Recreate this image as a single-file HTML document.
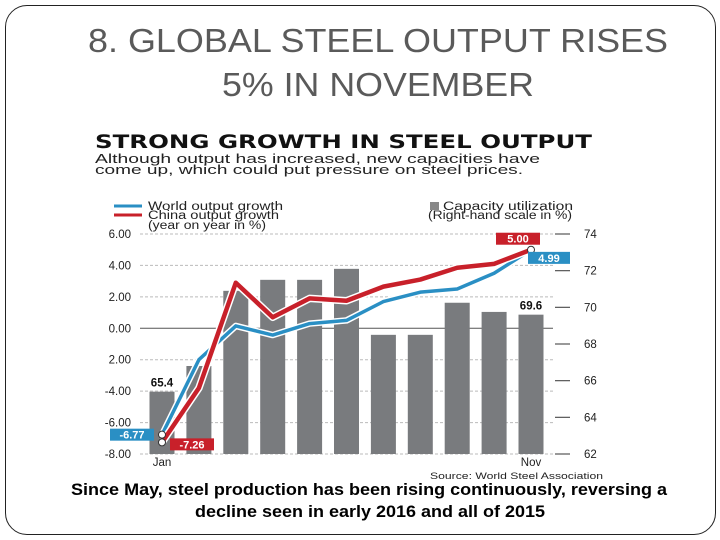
<!DOCTYPE html>
<html><head><meta charset="utf-8"><style>
body{margin:0;width:720px;height:540px;background:#fff;overflow:hidden;font-family:"Liberation Sans",sans-serif}
#frame{position:absolute;left:5px;top:5px;width:709px;height:528px;border:1.5px solid #222;border-radius:22px}
</style></head><body>
<div id="frame"></div>
<svg id="chart" width="720" height="540" style="position:absolute;left:0;top:0;font-family:'Liberation Sans',sans-serif">
<text x="88" y="52" font-size="33" fill="#5a5a5a" textLength="580" lengthAdjust="spacingAndGlyphs">8. GLOBAL STEEL OUTPUT RISES</text>
<text x="222" y="96" font-size="33" fill="#5a5a5a" textLength="312" lengthAdjust="spacingAndGlyphs">5% IN NOVEMBER</text>
<text x="95" y="148" font-size="19" font-weight="900" fill="#111" font-family="DejaVu Sans" textLength="497" lengthAdjust="spacingAndGlyphs">STRONG GROWTH IN STEEL OUTPUT</text>
<text x="95" y="163" font-size="13" fill="#222" textLength="445" lengthAdjust="spacingAndGlyphs">Although output has increased, new capacities have</text>
<text x="95" y="174" font-size="13" fill="#222" textLength="428" lengthAdjust="spacingAndGlyphs">come up, which could put pressure on steel prices.</text>
<line x1="114" y1="206" x2="142" y2="206" stroke="#2a8fc4" stroke-width="3"/>
<line x1="114" y1="215" x2="142" y2="215" stroke="#c8202a" stroke-width="3"/>
<text x="148" y="210" font-size="11.5" fill="#222" textLength="135" lengthAdjust="spacingAndGlyphs">World output growth</text>
<text x="148" y="219" font-size="11.5" fill="#222" textLength="131" lengthAdjust="spacingAndGlyphs">China output growth</text>
<text x="148" y="229" font-size="11.5" fill="#222" textLength="118" lengthAdjust="spacingAndGlyphs">(year on year in %)</text>
<rect x="430" y="202" width="9" height="8" fill="#888"/>
<text x="443" y="210" font-size="11.5" fill="#222" textLength="130" lengthAdjust="spacingAndGlyphs">Capacity utilization</text>
<text x="428" y="219" font-size="11.5" fill="#222" textLength="144" lengthAdjust="spacingAndGlyphs">(Right-hand scale in %)</text>
<text x="430" y="479" font-size="9" fill="#222" textLength="173" lengthAdjust="spacingAndGlyphs">Source: World Steel Association</text>
<text x="71" y="495" font-size="17" font-weight="bold" fill="#000" textLength="596" lengthAdjust="spacingAndGlyphs">Since May, steel production has been rising continuously, reversing a</text>
<text x="195" y="517" font-size="17" font-weight="bold" fill="#000" textLength="350" lengthAdjust="spacingAndGlyphs">decline seen in early 2016 and all of 2015</text>
<g id="g"></g>
</svg>
<script>
const months=["Jan","Feb","Mar","Apr","May","Jun","Jul","Aug","Sep","Oct","Nov"];
const capacity=[65.4,66.8,70.9,71.5,71.5,72.1,68.5,68.5,70.25,69.75,69.6];
const worldGrowth=[-6.77,-2.0,0.15,-0.43,0.3,0.5,1.7,2.3,2.5,3.5,4.99];
const chinaGrowth=[-7.26,-3.8,2.9,0.7,1.9,1.75,2.65,3.1,3.85,4.1,5.00];
const leftTicks=[6,4,2,0,-2,-4,-6,-8];
const leftTickLabels=["6.00","4.00","2.00","0.00","2.00","-4.00","-6.00","-8.00"];
const rightTicks=[74,72,70,68,66,64,62];

const NS="http://www.w3.org/2000/svg",g=document.getElementById('g');
const yL=v=>234+(6-v)*(220/14);
const yR=v=>234+(74-v)*(220/12);
const xM=i=>162+i*36.9;
function mk(t,a,txt){const e=document.createElementNS(NS,t);for(const k in a)e.setAttribute(k,a[k]);if(txt!=null)e.textContent=txt;g.appendChild(e);return e;}
leftTicks.forEach((v,i)=>{
 const l=mk('line',{x1:140,x2:553,y1:yL(v),y2:yL(v),stroke:v===0?'#555':'#bbb','stroke-width':1,'stroke-dasharray':v===0?'':'3,2'});
 
 
 const t=mk('text',{x:131,y:yL(v)+4,'font-size':11.5,fill:'#222','text-anchor':'end'},leftTickLabels[i]);
 
 
});
rightTicks.forEach(v=>{
 const l=mk('line',{x1:555,x2:570,y1:yR(v),y2:yR(v),stroke:'#555','stroke-width':1.2});
 
 
 const t=mk('text',{x:584,y:yR(v)+4,'font-size':11.5,fill:'#222'},String(v));
 
 
});
capacity.forEach((v,i)=>{
 const r=mk('rect',{x:xM(i)-12.5,y:yR(v),width:25,height:yR(62)-yR(v),fill:'#797b7e'});
 
 
});
function line(data,col,w,name){
 const pts=data.map((v,i)=>xM(i)+','+yL(v)).join(' ');
 const h=mk('polyline',{points:pts,fill:'none',stroke:'#fff','stroke-width':w+3,'stroke-linejoin':'round'});
 
 
 const p=mk('polyline',{points:pts,fill:'none',stroke:col,'stroke-width':w,'stroke-linejoin':'round'});
 
 
}
line(worldGrowth,'#2a8fc4',3.5,'world-growth-line');
line(chinaGrowth,'#c8202a',4.5,'china-growth-line');
[[worldGrowth,0],[chinaGrowth,0],[chinaGrowth,10]].forEach(([d,i])=>{
 const c=mk('circle',{cx:xM(i),cy:yL(d[i]),r:3.5,fill:'#fff',stroke:'#333','stroke-width':1});
 
 
});
function tag(x,y,w,col,txt,name){
 const r=mk('rect',{x:x,y:y,width:w,height:12,fill:col});
 
 
 const t=mk('text',{x:x+w/2,y:y+10,'font-size':11,'font-weight':'bold',fill:'#fff','text-anchor':'middle'},txt);
 
 
}
tag(110,yL(worldGrowth[0])-6,44,'#2a8fc4',worldGrowth[0].toFixed(2),'world-jan-label');
tag(170,yL(chinaGrowth[0])-4,44,'#c8202a',chinaGrowth[0].toFixed(2),'china-jan-label');
tag(496,yL(chinaGrowth[10])-17,44,'#c8202a',chinaGrowth[10].toFixed(2),'china-nov-label');
tag(528,yL(worldGrowth[10])+2,42,'#2a8fc4',worldGrowth[10].toFixed(2),'world-nov-label');
[[0,'65.4'],[10,'69.6']].forEach(([i,s])=>{
 const t=mk('text',{x:xM(i),y:yR(capacity[i])-5,'font-size':11.5,'font-weight':'bold',fill:'#111','text-anchor':'middle'},s);
 
 
});
[[0,'Jan'],[10,'Nov']].forEach(([i,s])=>{
 const t=mk('text',{x:xM(i),y:466,'font-size':11.5,fill:'#222','text-anchor':'middle'},s);
 
 
});
</script>
</body></html>
